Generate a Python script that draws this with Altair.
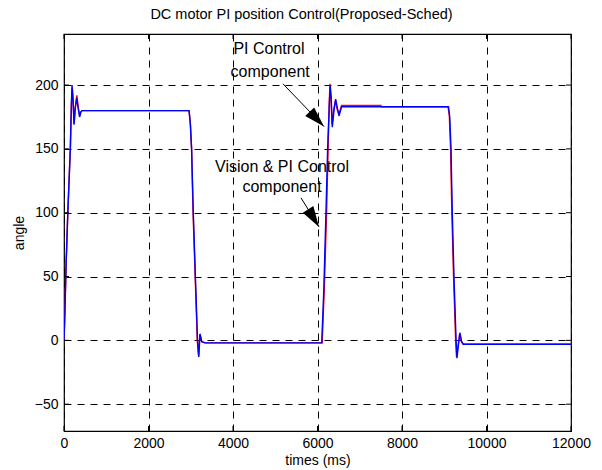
import altair as alt
import pandas as pd

# ---- data ----
t_blue = [0, 20, 50, 90, 120, 150, 175, 190, 212, 237, 265, 300, 335, 370, 400, 430,
          2960, 2990, 3020, 3060, 3110, 3160, 3190, 3220, 3260, 3340,
          6100, 6150, 6200, 6240, 6280, 6300, 6325, 6350, 6390, 6430, 6470, 6510, 6570,
          9100, 9130, 9160, 9190, 9230, 9280, 9300, 9370, 9410, 9450, 12000]
y_blue = [0, 20, 60, 100, 125, 150, 185, 200, 190, 169, 182, 190, 182, 175, 179, 180,
          180, 170, 150, 100, 50, 0, -13, 5, -1, -2,
          -2, 40, 100, 150, 185, 200, 190, 167, 180, 189, 182, 176, 183,
          183, 175, 150, 100, 50, 0, -14, 6, -1, -3, -3]

t_red = [0, 20, 50, 90, 120, 150, 175, 195, 215, 240, 270, 305, 335, 370, 400, 430,
         2960, 2990, 3020, 3055, 3105, 3155, 3185, 3215, 3260, 3340,
         6110, 6160, 6215, 6250, 6280, 6295, 6320, 6345, 6385, 6425, 6465, 6505, 6570, 7500, 7520,
         9090, 9120, 9150, 9180, 9220, 9270, 9290, 9365, 9410, 9450, 12000]
y_red = [0, 20, 60, 100, 125, 150, 185, 198, 188, 170, 183, 192, 183, 176, 179, 180,
         180, 170, 150, 100, 50, 0, -12, 5, -1, -2,
         -2, 40, 100, 150, 188, 201, 188, 169, 181, 188, 181, 177, 184, 184, 183,
         183, 176, 150, 100, 50, 0, -13, 5, -1, -3, -3]

x_ticks = [0, 2000, 4000, 6000, 8000, 10000, 12000]
y_ticks = [-50, 0, 50, 100, 150, 200]

ann_text = ["PI Control", "component", "Vision & PI Control", "component"]
ann_x = [4852, 4880, 5160, 5160]
ann_y = [228, 210.5, 136, 120.5]

arrow_x = [5183, 5610]
arrow_y = [201, 111.6]
arrow_x2 = [6154, 6036]
arrow_y2 = [167.5, 88.9]
arrow_angle = [136, 148]

W, H = 507, 397
FONT = "Liberation Sans"

df = pd.concat([
    pd.DataFrame({"t": t_red, "angle": y_red, "series": "PI Control component"}),
    pd.DataFrame({"t": t_blue, "angle": y_blue, "series": "Vision & PI Control component"}),
])

xs = alt.Scale(domain=[0, 12000], nice=False, zero=False)
ys = alt.Scale(domain=[-71, 240], nice=False, zero=False)

xaxis = alt.Axis(values=x_ticks, format="d", title="times (ms)", grid=True, gridColor="black",
                 gridDash=[7, 6], gridOpacity=1, gridWidth=1, domain=False, ticks=False,
                 labelFont=FONT, labelFontSize=14, labelColor="black", labelPadding=5,
                 titleFont=FONT, titleFontSize=14, titleFontWeight="normal", titleColor="black",
                 titlePadding=3, labelFlush=False)
yaxis = alt.Axis(values=y_ticks, format="d", title="angle", grid=True, gridColor="black",
                 gridDash=[7, 6], gridOpacity=1, gridWidth=1, domain=False, ticks=False,
                 labelFont=FONT, labelFontSize=14, labelColor="black", labelPadding=6,
                 titleFont=FONT, titleFontSize=14, titleFontWeight="normal", titleColor="black",
                 titlePadding=8, labelFlush=False)

lines = alt.Chart(df).mark_line(strokeWidth=1.4, clip=True).encode(
    x=alt.X("t:Q", scale=xs, axis=xaxis),
    y=alt.Y("angle:Q", scale=ys, axis=yaxis),
    color=alt.Color("series:N", scale=alt.Scale(
        domain=["PI Control component", "Vision & PI Control component"],
        range=["#ff0000", "#0000ff"]), legend=None),
    order=alt.Order("t:Q"),
)

xt = pd.DataFrame({"v": x_ticks})
yt = pd.DataFrame({"v": y_ticks})
tick_bot = alt.Chart(xt).mark_rule(color="black", strokeWidth=1).encode(
    x=alt.X("v:Q", scale=xs), y=alt.value(H), y2=alt.value(H - 5))
tick_top = alt.Chart(xt).mark_rule(color="black", strokeWidth=1).encode(
    x=alt.X("v:Q", scale=xs), y=alt.value(0), y2=alt.value(5))
tick_left = alt.Chart(yt).mark_rule(color="black", strokeWidth=1).encode(
    y=alt.Y("v:Q", scale=ys), x=alt.value(0), x2=alt.value(5))
tick_right = alt.Chart(yt).mark_rule(color="black", strokeWidth=1).encode(
    y=alt.Y("v:Q", scale=ys), x=alt.value(W), x2=alt.value(W - 5))

ann_df = pd.DataFrame({"text": ann_text, "x": ann_x, "y": ann_y})
texts = alt.Chart(ann_df).mark_text(font=FONT, fontSize=16, color="black",
                                    align="center", baseline="middle").encode(
    x=alt.X("x:Q", scale=xs), y=alt.Y("y:Q", scale=ys), text="text:N")

arr_df = pd.DataFrame({"x": arrow_x, "y": arrow_y, "x2": arrow_x2, "y2": arrow_y2,
                       "ang": arrow_angle})
shafts = alt.Chart(arr_df).mark_rule(color="black", strokeWidth=1).encode(
    x=alt.X("x:Q", scale=xs), y=alt.Y("y:Q", scale=ys), x2="x2:Q", y2="y2:Q")
heads = alt.Chart(arr_df).mark_point(shape="M0,0L-0.3,1L0.3,1Z", filled=True,
                                     color="black", opacity=1, size=1700).encode(
    x=alt.X("x2:Q", scale=xs), y=alt.Y("y2:Q", scale=ys),
    angle=alt.Angle("ang:Q", scale=None))

chart = alt.layer(lines, tick_bot, tick_top, tick_left, tick_right, shafts, heads, texts).properties(
    width=W, height=H,
    title=alt.TitleParams("DC motor PI position Control(Proposed-Sched)", font=FONT,
                          fontSize=14.5, fontWeight="normal", color="black",
                          anchor="middle", offset=11, dx=-16),
    autosize=alt.AutoSizeParams(type="none"),
    padding={"left": 64, "top": 34, "right": 31, "bottom": 39},
    background="white",
).configure_view(stroke="black", strokeWidth=1.2)

chart.save("out.html", embed_options={"renderer": "svg", "actions": False})
